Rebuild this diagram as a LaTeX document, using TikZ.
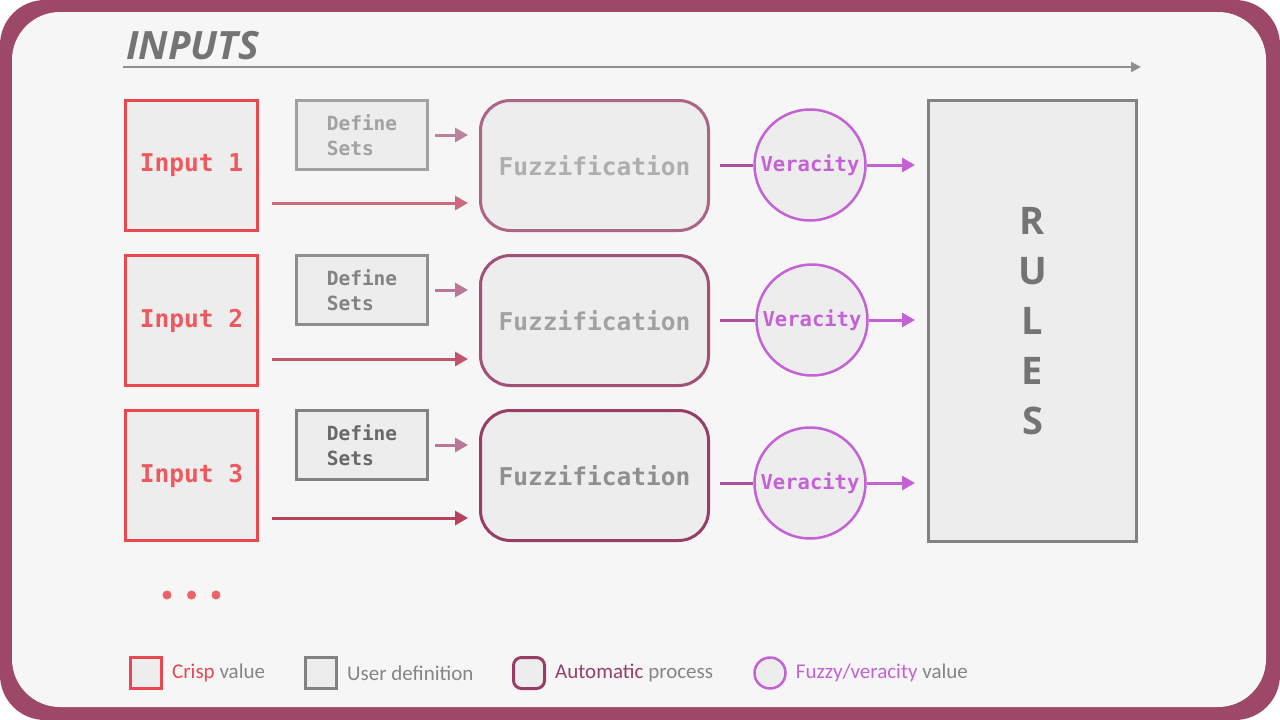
\documentclass[tikz,border=0pt]{standalone}
\usepackage{fontspec}
\setmainfont{Carlito}
\setsansfont{Open Sans}
\setmonofont{DejaVu Sans Mono}
\usetikzlibrary{arrows.meta,positioning}
\definecolor{frame}{HTML}{9D4866}
\definecolor{paper}{HTML}{F6F6F6}
\definecolor{boxfill}{HTML}{EDEDED}
\definecolor{crisp}{HTML}{E8484F}
\definecolor{crisptext}{HTML}{EC5A60}
\definecolor{userg}{HTML}{828282}
\definecolor{auto}{HTML}{973E67}
\definecolor{fuzzy}{HTML}{C462D5}
\definecolor{label}{HTML}{858585}
\definecolor{titleg}{HTML}{747474}
\tikzset{
  crispbox/.style={draw=crisp, line width=3pt, fill=boxfill, minimum width=132pt, minimum height=130pt, inner sep=0pt, text=crisptext, font=\ttfamily\bfseries\fontsize{24.5}{28}\selectfont},
  userbox/.style={draw=userg, line width=3pt, fill=boxfill, minimum width=131pt, minimum height=69pt, inner sep=0pt, align=left, font=\ttfamily\bfseries\fontsize{19.5}{25}\selectfont},
  autobox/.style={draw=auto, line width=3pt, fill=boxfill, rounded corners=30pt, minimum width=228pt, minimum height=130pt, inner sep=0pt, font=\ttfamily\bfseries\fontsize{24.5}{28}\selectfont},
  fuzzycirc/.style={circle, draw=fuzzy, line width=2.5pt, fill=boxfill, minimum size=111pt, inner sep=0pt, text=fuzzy, font=\ttfamily\bfseries\fontsize{20.5}{24}\selectfont},
  flow/.style={line width=3pt, -{Triangle[length=13pt,width=14pt]}},
  legendkey/.style={line width=3pt, fill=boxfill, minimum size=31pt, inner sep=0pt},
  legendtext/.style={inner sep=0pt, text=label, font=\fontsize{21}{24}\selectfont},
  dot/.style={circle, fill=crisp!85, minimum size=9pt, inner sep=0pt}
}
\begin{document}
\begin{tikzpicture}[x=1pt,y=-1pt]
\useasboundingbox (0,0) rectangle (1280,720);
% frame
\fill[frame, rounded corners=45pt] (0,0) rectangle (1280,720);
\fill[paper, rounded corners=48pt] (12,12) rectangle (1266,707);
% title
\node[anchor=west, inner sep=0pt, text=titleg, font=\sffamily\bfseries\itshape\fontsize{39}{42}\selectfont] (title) at (126,46) {INPUTS};
\coordinate (axisL) at (123,67);
\coordinate (axisR) at (1141,67);
\draw[titleg!80, line width=2pt, -{Triangle[length=10pt,width=10pt]}] (axisL) -- (axisR);
% inputs
\node[crispbox] (in1) at (191.5,165.5) {Input 1};
\node[crispbox] (in2) at (191.5,320.5) {Input 2};
\node[crispbox] (in3) at (191.5,475.5) {Input 3};
% define sets
\node[userbox, draw=userg!75, text=userg!75] (ds1) at (362,135) {Define\\Sets};
\node[userbox, draw=userg!90, text=userg] (ds2) at (362,290) {Define\\Sets};
\node[userbox, text=userg!80!black] (ds3) at (362,445) {Define\\Sets};
% fuzzification
\node[autobox, draw=auto!80, text=userg!65] (fz1) at (594.5,165.5) {Fuzzification};
\node[autobox, draw=auto!90, text=userg!75] (fz2) at (594.5,320.5) {Fuzzification};
\node[autobox, text=userg!90] (fz3) at (594.5,475.5) {Fuzzification};
% veracity
\node[fuzzycirc] (vr1) at (810,165) {Veracity};
\node[fuzzycirc] (vr2) at (812,320) {Veracity};
\node[fuzzycirc] (vr3) at (810,483) {Veracity};
% rules
\node[draw=userg, line width=3pt, fill=boxfill, minimum width=208pt, minimum height=441pt, align=center, text=titleg, font=\sffamily\bfseries\fontsize{38}{50}\selectfont] (rules) at (1032.5,321) {R\\U\\L\\E\\S};
% connectors
\draw[flow, auto!65, shorten <=6pt, shorten >=11pt] (ds1.east) -- (fz1.west |- ds1.east);
\draw[flow, auto!70, shorten <=6pt, shorten >=11pt] (ds2.east) -- (fz2.west |- ds2.east);
\draw[flow, auto!70, shorten <=6pt, shorten >=11pt] (ds3.east) -- (fz3.west |- ds3.east);
\draw[flow, crisp!50!auto!80, shorten >=11pt] ([xshift=13pt,yshift=-37.5pt]in1.east) -- ([yshift=-37.5pt]fz1.west);
\draw[flow, crisp!45!auto!90, shorten >=11pt] ([xshift=13pt,yshift=-38.5pt]in2.east) -- ([yshift=-38.5pt]fz2.west);
\draw[flow, crisp!40!auto, shorten >=11pt] ([xshift=13pt,yshift=-42.5pt]in3.east) -- ([yshift=-42.5pt]fz3.west);
\draw[line width=3pt, auto!50!fuzzy, shorten <=10pt] (fz1.east |- vr1.west) -- (vr1.west);
\draw[line width=3pt, auto!50!fuzzy, shorten <=10pt] (fz2.east |- vr2.west) -- (vr2.west);
\draw[line width=3pt, auto!50!fuzzy, shorten <=10pt] (fz3.east |- vr3.west) -- (vr3.west);
\draw[flow, fuzzy, shorten >=12pt] (vr1.east) -- (vr1.east -| rules.west);
\draw[flow, fuzzy, shorten >=12pt] (vr2.east) -- (vr2.east -| rules.west);
\draw[flow, fuzzy, shorten >=12pt] (vr3.east) -- (vr3.east -| rules.west);
% more inputs
\node[dot] (d1) at (167,595) {};
\node[dot] (d2) at (191.5,595) {};
\node[dot] (d3) at (216,595) {};
% legend
\node[legendkey, draw=crisp] (lg1) at (146,673) {};
\node[legendtext, right=9pt of lg1] (lt1) {\textcolor{crisp}{Crisp} value};
\node[legendkey, draw=userg] (lg2) at (321,673) {};
\node[legendtext, right=9pt of lg2] (lt2) {User definition};
\node[legendkey, draw=auto, rounded corners=8pt] (lg3) at (529,673) {};
\node[legendtext, right=9pt of lg3] (lt3) {\textcolor{auto}{Automatic} process};
\node[legendkey, circle, draw=fuzzy, line width=2.5pt] (lg4) at (770,673) {};
\node[legendtext, right=9pt of lg4] (lt4) {\textcolor{fuzzy}{Fuzzy/veracity} value};
\end{tikzpicture}
\end{document}
